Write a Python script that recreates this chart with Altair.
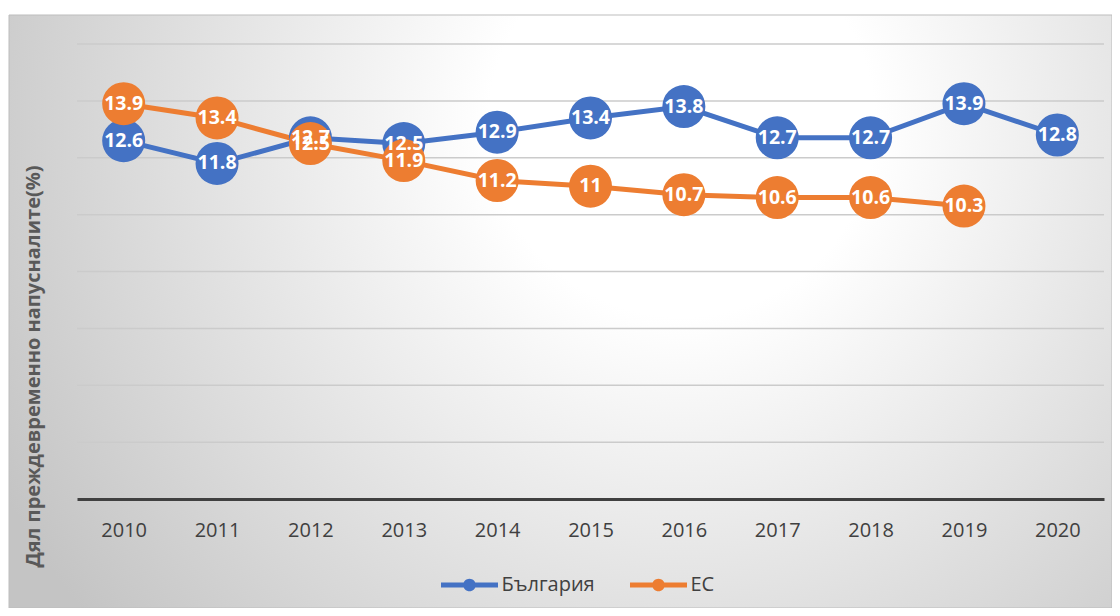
import altair as alt
import pandas as pd

years = ["2010", "2011", "2012", "2013", "2014", "2015", "2016", "2017", "2018", "2019", "2020"]
bulgaria = [12.6, 11.8, 12.7, 12.5, 12.9, 13.4, 13.8, 12.7, 12.7, 13.9, 12.8]
eu = [13.9, 13.4, 12.5, 11.9, 11.2, 11.0, 10.7, 10.6, 10.6, 10.3]
series_names = ["България", "ЕС"]
series_colors = ["#4472C4", "#ED7D31"]
y_ticks = [2, 4, 6, 8, 10, 12, 14, 16]
y_title = "Дял преждевременно напусналите(%)"

rows = []
for name, vals in zip(series_names, [bulgaria, eu]):
    for yr, v in zip(years, vals):
        rows.append({"series": name, "year": yr, "value": v, "label": f"{v:g}"})
df = pd.DataFrame(rows)
grid_df = pd.DataFrame({"value": y_ticks})

FONT = "Open Sans"
y_scale = alt.Scale(domain=[0, 16], nice=False, zero=True)

y_axis = alt.Axis(
    labels=False, ticks=False, domain=False, grid=False, zindex=1,
    title=y_title, titleFont=FONT, titleFontSize=20, titleFontWeight="bold",
    titleColor="#595959", titleAngle=-90, titleX=-44, titleY=322,
    titleAlign="center", titleBaseline="middle",
)

# background panel with radial gradient
bg = alt.Chart(pd.DataFrame({"k": [0]})).mark_rect(
    fill=alt.RadialGradient(
        gradient="radial",
        stops=[
            alt.GradientStop(offset=0, color="#ffffff"),
            alt.GradientStop(offset=0.25, color="#ffffff"),
            alt.GradientStop(offset=1, color="#c4c4c4"),
        ],
        x1=0.61, y1=0.33, r1=0,
        x2=0.61, y2=0.33, r2=0.7,
    ),
    stroke="#bdbdbd",
    strokeWidth=1,
).encode(
    x=alt.value(-68), x2=alt.value(1035), y=alt.value(-29), y2=alt.value(564)
)

gridlines = alt.Chart(grid_df).mark_rule(color="#cbcbcb", strokeWidth=1.5).encode(
    y=alt.Y("value:Q", scale=y_scale, axis=y_axis),
    x=alt.value(0), x2=alt.value(1027),
)

x_enc = alt.X(
    "year:O",
    sort=years,
    scale=alt.Scale(type="point", padding=0.5),
    axis=alt.Axis(
        title=None, labelAngle=0, labelFontSize=20, labelColor="#404040", labelFont=FONT,
        ticks=False, tickSize=0, labelPadding=21, domain=True, domainColor="#404040",
        domainWidth=3, grid=False, zindex=1,
    ),
)
y_enc = alt.Y("value:Q", scale=y_scale, axis=y_axis)

legend_symbol = (
    "M-4.75,-0.42L4.75,-0.42L4.75,0.42L-4.75,0.42Z"
    "M1.05,0A1.05,1.05,0,1,1,-1.05,0A1.05,1.05,0,1,1,1.05,0Z"
)

base = alt.Chart(df)

line_layers = [
    base.transform_filter(alt.datum.series == name)
    .mark_line(strokeWidth=5, color=col)
    .encode(x=x_enc, y=y_enc)
    for name, col in zip(series_names, series_colors)
]

points = base.mark_point(filled=True, size=1850, opacity=1, strokeWidth=0).encode(
    x=x_enc, y=y_enc,
    color=alt.Color(
        "series:N",
        scale=alt.Scale(domain=series_names, range=series_colors),
        legend=alt.Legend(
            title=None, orient="none", direction="horizontal",
            legendX=382.5, legendY=531, padding=0, zindex=1,
            symbolType=legend_symbol, symbolSize=144, symbolStrokeWidth=0,
            symbolOpacity=1,
            labelFont=FONT, labelFontSize=20, labelColor="#404040",
            labelOffset=22, columnPadding=34,
        ),
    ),
)

labels = base.mark_text(
    color="white", font=FONT, fontSize=19.5, fontWeight="bold", baseline="middle", align="center"
).encode(x=x_enc, y=y_enc, text="label:N")

chart = alt.layer(bg, gridlines, *line_layers, points, labels).properties(
    width=1027,
    height=455,
    autosize=alt.AutoSizeParams(type="none"),
    padding={"left": 69, "top": 36, "right": 8, "bottom": 109},
    background="white",
).configure_view(stroke=None)

chart.save("out.html", embed_options={"renderer": "svg", "actions": False})
